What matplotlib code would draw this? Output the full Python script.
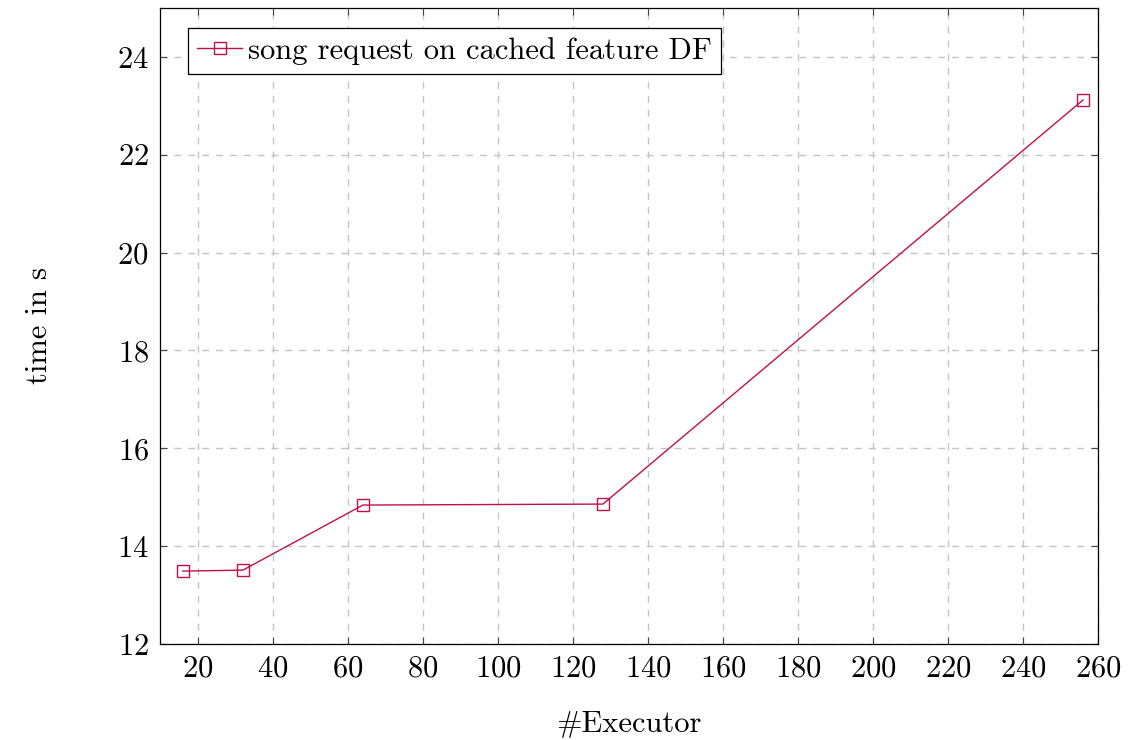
#!/usr/bin/env python3
import matplotlib
matplotlib.use("Agg")
import matplotlib.pyplot as plt

# values
executors = [16, 32, 64, 128, 256]
times = [13.49, 13.51, 14.84, 14.86, 23.12]
x_ticks = [20, 40, 60, 80, 100, 120, 140, 160, 180, 200, 220, 240, 260]
y_ticks = [12, 14, 16, 18, 20, 22, 24]

plt.rcParams['font.family'] = ['cmr10', 'DejaVu Serif']
plt.rcParams['mathtext.fontset'] = 'cm'
plt.rcParams['axes.formatter.use_mathtext'] = True
plt.rcParams['font.size'] = 22

fig = plt.figure(figsize=(11.3, 7.4), dpi=100)
ax = fig.add_axes([160 / 1130, 1 - 644 / 740, 938 / 1130, 636 / 740])

line_color = '#c0104c'
ax.plot(executors, times, color=line_color, linewidth=1.0, marker='s',
        markersize=8, markerfacecolor='none', markeredgecolor=line_color,
        markeredgewidth=1.0, label='song request on cached feature DF')

ax.set_xlim(9.9, 260)
ax.set_ylim(12, 25)
ax.set_xticks(x_ticks)
ax.set_yticks(y_ticks)

# pgfplots look: dashed grey grid, inward ticks on all sides
ax.grid(True, color='#c4c4c4', linestyle=(0, (5, 5)), linewidth=1.0)
ax.set_axisbelow(True)
ax.tick_params(direction='in', top=True, right=True, length=5, width=0.8,
               pad=8, color='#444444')
for side in ax.spines.values():
    side.set_linewidth(0.9)

ax.set_xlabel('#Executor', labelpad=20)
ax.set_ylabel('time in s', labelpad=46)

leg = ax.legend(loc='upper left', bbox_to_anchor=(0.0299, 0.969),
                borderaxespad=0, fancybox=False, framealpha=1,
                edgecolor='black', handlelength=1.47, handletextpad=0.2,
                borderpad=0.3, fontsize=22)
leg.get_frame().set_linewidth(0.9)

fig.savefig('out.png', dpi=100)
